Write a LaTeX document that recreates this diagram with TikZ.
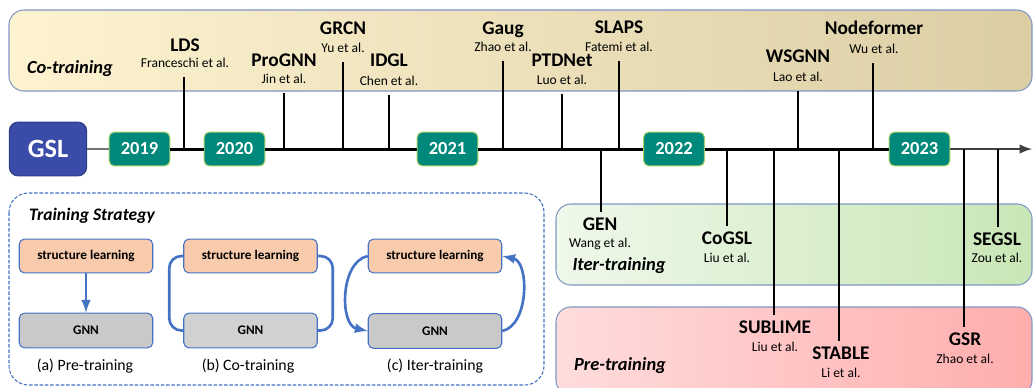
\documentclass[tikz,border=0pt]{standalone}
\usepackage{fontspec}
\setmainfont{Carlito}
\usetikzlibrary{calc}

\definecolor{cobandL}{HTML}{FDF3D0}
\definecolor{cobandR}{HTML}{DBCEA5}
\definecolor{iterL}{HTML}{EFF8EA}
\definecolor{iterR}{HTML}{C8E6B6}
\definecolor{preL}{HTML}{FFDCDC}
\definecolor{preR}{HTML}{FFADAD}
\definecolor{bandline}{HTML}{7E97C5}
\definecolor{gslblue}{HTML}{3A4BA8}
\definecolor{yearteal}{HTML}{00897B}
\definecolor{yearedge}{HTML}{A8CF6A}
\definecolor{slorange}{HTML}{F8CBAD}
\definecolor{gnngray}{HTML}{C9C9C9}
\definecolor{flowblue}{HTML}{4472C4}

\tikzset{
	papername/.style={font=\fontsize{11}{12}\selectfont\bfseries, inner sep=1pt, text height=0.7em, text depth=0.2em},
	paperauth/.style={font=\fontsize{7.7}{9}\selectfont, inner sep=1pt, text height=0.7em, text depth=0.2em},
	bandtitle/.style={font=\fontsize{10.5}{12}\selectfont\bfseries\itshape},
	tick/.style={line width=1.1pt, color=black, shorten >=2.5pt},
	yearbox/.style={fill=yearteal, draw=yearedge, line width=0.6pt, rounded corners=3pt, minimum width=34.6pt, minimum height=19.3pt, text=white, font=\fontsize{10.5}{12}\selectfont\bfseries},
	slbox/.style={fill=slorange, draw=flowblue, line width=0.6pt, rounded corners=3pt, minimum width=76pt, minimum height=19.3pt, font=\fontsize{7.5}{9}\selectfont\bfseries},
	gnnbox/.style={fill=gnngray, draw=flowblue, line width=0.6pt, rounded corners=3pt, minimum width=76pt, minimum height=19.8pt, font=\fontsize{7.5}{9}\selectfont\bfseries},
	caption/.style={font=\fontsize{9}{11}\selectfont},
	flow/.style={line width=1.5pt, color=flowblue}
}

\begin{document}
\begin{tikzpicture}[x=0.02cm, y=-0.02cm]
			%%%%% START %%%%%
			\clip (0, 0) rectangle (1033, 387);
			
			% bands
			\shadedraw[left color=cobandL, right color=cobandR, draw=bandline, line width=0.6pt, rounded corners=8.5pt] (9, 10) rectangle (1032, 91);
			\shadedraw[left color=iterL, right color=iterR, draw=bandline, line width=0.6pt, rounded corners=8.5pt] (556, 204) rectangle (1032, 285);
			\shadedraw[left color=preL, right color=preR, draw=bandline, line width=0.6pt, rounded corners=8.5pt] (556, 307) rectangle (1032, 395);
			\node[bandtitle] (cotitle) at (70, 69) {Co-training};
			\node[bandtitle] (itertitle) at (619, 266) {Iter-training};
			\node[bandtitle] (pretitle) at (620, 366) {Pre-training};
			
			% timeline
			\node[fill=gslblue, draw=gslblue!80!black, line width=0.6pt, rounded corners=5pt, minimum width=44pt, minimum height=30.6pt, text=white, font=\fontsize{15}{17}\selectfont\bfseries] (gsl) at (48, 149) {GSL};
			\node[yearbox] (y2019) at (139.5, 149) {2019};
			\node[yearbox] (y2020) at (234.5, 149) {2020};
			\node[yearbox] (y2021) at (447.5, 149) {2021};
			\node[yearbox] (y2022) at (674, 149) {2022};
			\node[yearbox] (y2023) at (919.5, 149) {2023};
			\coordinate (tend) at (1032, 149);
			
			\draw[line width=1.2pt, color=black!55] (gsl.east) -- (y2019.west);
			\draw[line width=1.7pt] (y2019.east) -- (y2020.west);
			\draw[line width=1.7pt] (y2020.east) -- (y2021.west);
			\draw[line width=1.7pt] (y2021.east) -- (y2022.west);
			\draw[line width=1.7pt] (y2022.east) -- (y2023.west);
			\draw[line width=1.4pt, color=black!75, -latex] (y2023.east) -- (tend);
			
			% co-training papers
			\node[papername] (lds) at (185, 47) {LDS};
			\node[paperauth] (lds-a) at (185, 63) {Franceschi et al.};
			\coordinate (lds-t) at (184, 149);
			\draw[tick] (lds-t) -- (lds-t |- lds-a.south);
			
			\node[papername] (prognn) at (284, 62) {ProGNN};
			\node[paperauth] (prognn-a) at (284, 79) {Jin et al.};
			\coordinate (prognn-t) at (284, 149);
			\draw[tick] (prognn-t) -- (prognn-t |- prognn-a.south);
			
			\node[papername] (grcn) at (343, 30) {GRCN};
			\node[paperauth] (grcn-a) at (343, 48) {Yu et al.};
			\coordinate (grcn-t) at (343, 149);
			\draw[tick] (grcn-t) -- (grcn-t |- grcn-a.south);
			
			\node[papername] (idgl) at (389, 62) {IDGL};
			\node[paperauth] (idgl-a) at (389, 81) {Chen et al.};
			\coordinate (idgl-t) at (389, 149);
			\draw[tick] (idgl-t) -- (idgl-t |- idgl-a.south);
			
			\node[papername] (gaug) at (503, 30) {Gaug};
			\node[paperauth] (gaug-a) at (503, 47) {Zhao et al.};
			\coordinate (gaug-t) at (503, 149);
			\draw[tick] (gaug-t) -- (gaug-t |- gaug-a.south);
			
			\node[papername] (ptdnet) at (562, 62) {PTDNet};
			\node[paperauth] (ptdnet-a) at (562, 80) {Luo et al.};
			\coordinate (ptdnet-t) at (562, 149);
			\draw[tick] (ptdnet-t) -- (ptdnet-t |- ptdnet-a.south);
			
			\node[papername] (slaps) at (619, 29) {SLAPS};
			\node[paperauth] (slaps-a) at (619, 47) {Fatemi et al.};
			\coordinate (slaps-t) at (619, 149);
			\draw[tick] (slaps-t) -- (slaps-t |- slaps-a.south);
			
			\node[papername] (wsgnn) at (798, 58) {WSGNN};
			\node[paperauth] (wsgnn-a) at (798, 77) {Lao et al.};
			\coordinate (wsgnn-t) at (798, 149);
			\draw[tick] (wsgnn-t) -- (wsgnn-t |- wsgnn-a.south);
			
			\node[papername] (nodeformer) at (874, 30) {Nodeformer};
			\node[paperauth] (nodeformer-a) at (874, 49) {Wu et al.};
			\coordinate (nodeformer-t) at (873, 149);
			\draw[tick] (nodeformer-t) -- (nodeformer-t |- nodeformer-a.south);
			
			% iter- and pre-training papers
			\node[papername] (gen) at (600, 226) {GEN};
			\node[paperauth] (gen-a) at (600, 243) {Wang et al.};
			\coordinate (gen-t) at (601, 149);
			\draw[tick] (gen-t) -- (gen-t |- gen.north);
			
			\node[papername] (cogsl) at (727, 240) {CoGSL};
			\node[paperauth] (cogsl-a) at (727, 258) {Liu et al.};
			\coordinate (cogsl-t) at (727, 149);
			\draw[tick] (cogsl-t) -- (cogsl-t |- cogsl.north);
			
			\node[papername] (sublime) at (775, 329) {SUBLIME};
			\node[paperauth] (sublime-a) at (775, 347) {Liu et al.};
			\coordinate (sublime-t) at (774, 149);
			\draw[tick] (sublime-t) -- (sublime-t |- sublime.north);
			
			\node[papername] (stable) at (841, 355) {STABLE};
			\node[paperauth] (stable-a) at (841, 373) {Li et al.};
			\coordinate (stable-t) at (839, 149);
			\draw[tick] (stable-t) -- (stable-t |- stable.north);
			
			\node[papername] (gsr) at (965, 341) {GSR};
			\node[paperauth] (gsr-a) at (965, 359) {Zhao et al.};
			\coordinate (gsr-t) at (964, 149);
			\draw[tick] (gsr-t) -- (gsr-t |- gsr.north);
			
			\node[papername] (segsl) at (997, 241) {SEGSL};
			\node[paperauth] (segsl-a) at (997, 258) {Zou et al.};
			\coordinate (segsl-t) at (998, 149);
			\draw[tick] (segsl-t) -- (segsl-t |- segsl.north);
			
			% training strategy
			\draw[color=flowblue, line width=0.6pt, dash pattern=on 2pt off 1pt, rounded corners=11pt] (9, 193) rectangle (544, 385);
			\node[font=\fontsize{10}{12}\selectfont\bfseries\itshape] (strategy) at (92, 216) {Training Strategy};
			
			\node[slbox] (sla) at (86, 256) {structure learning};
			\node[gnnbox] (gnna) at (86, 330.5) {GNN};
			\node[caption] (capa) at (85, 366) {(a) Pre-training};
			\draw[flow, -latex] (sla) -- (gnna);
			
			\node[slbox] (slb) at (250.5, 256) {structure learning};
			\node[gnnbox, fill=gnngray!85] (gnnb) at (250.5, 330.5) {GNN};
			\node[caption] (capb) at (248, 366) {(b) Co-training};
			\draw[flow, rounded corners=7pt] (slb.west) -- ++(-14, 0) |- (gnnb.west);
			\draw[flow, rounded corners=7pt] (slb.east) -- ++(15, 0) |- (gnnb.east);
			
			\node[slbox] (slc) at (435, 256) {structure learning};
			\node[gnnbox] (gnnc) at (435, 331) {GNN};
			\node[caption] (capc) at (435, 366) {(c) Iter-training};
			\draw[flow, -latex] (slc.west) .. controls +(-28, 6) and +(-28, -6) .. (gnnc.west);
			\draw[flow, -latex] (gnnc.east) .. controls +(27, -6) and +(27, 6) .. (slc.east);
			
			%%%%% END %%%%%
\end{tikzpicture}
\end{document}
